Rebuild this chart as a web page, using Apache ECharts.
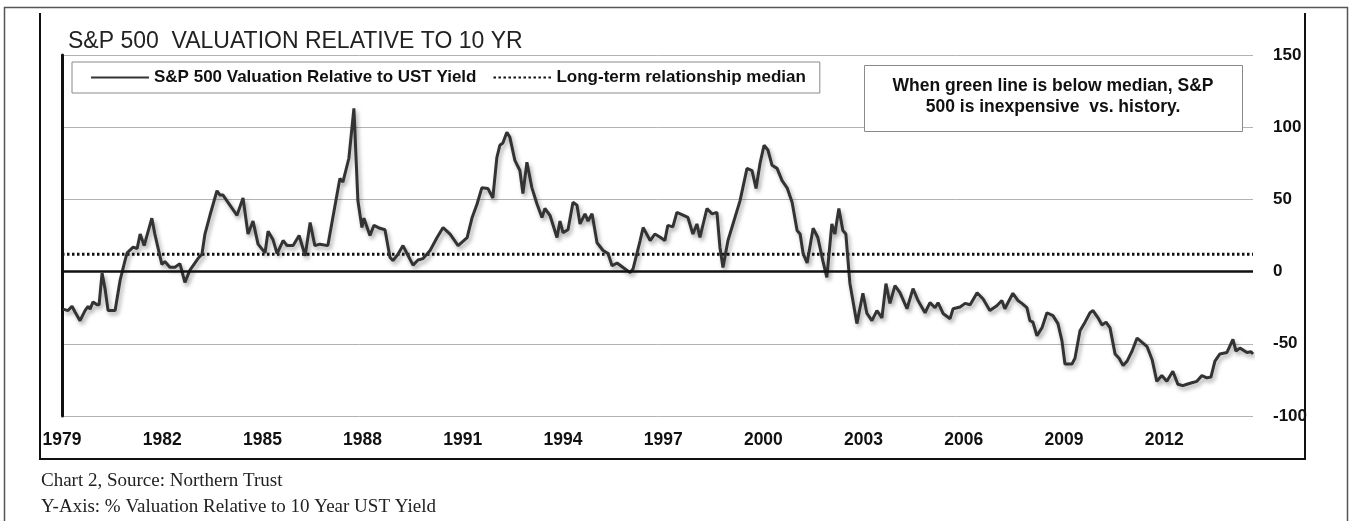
<!DOCTYPE html>
<html>
<head>
<meta charset="utf-8">
<script src="https://cdn.jsdelivr.net/npm/echarts@6/dist/echarts.min.js"></script>
<style>
  html, body { margin: 0; padding: 0; background: #fff; }
  #chart { width: 1351px; height: 521px; }
</style>
</head>
<body>
<div id="chart"></div>
<script>
// ---- Data ----
const titleText = 'S&P 500  VALUATION RELATIVE TO 10 YR';
const seriesName = 'S&P 500 Valuation Relative to UST Yield';
const medianName = 'Long-term relationship median';
const noteLines = ['When green line is below median, S&P', '500 is inexpensive  vs. history.'];
const captionLines = ['Chart 2, Source: Northern Trust', 'Y-Axis: % Valuation Relative to 10 Year UST Yield'];

const xTickYears = [1979, 1982, 1985, 1988, 1991, 1994, 1997, 2000, 2003, 2006, 2009, 2012];
const xRange = [1979, 2014.66];
const yRange = [-100, 150];
const yStep = 50;

const years = [
  1979.03,1979.18,1979.30,1979.39,1979.54,1979.69,1979.78,1979.84,1979.93,1980.05,
  1980.11,1980.20,1980.29,1980.38,1980.59,1980.74,1980.89,1980.95,1981.13,1981.25,
  1981.34,1981.46,1981.69,1981.78,1981.93,1981.99,1982.08,1982.23,1982.38,1982.53,
  1982.68,1982.83,1982.92,1983.07,1983.19,1983.28,1983.43,1983.64,1983.73,1983.82,
  1983.97,1984.24,1984.42,1984.57,1984.72,1984.87,1985.08,1985.17,1985.32,1985.44,
  1985.62,1985.74,1985.92,1986.10,1986.28,1986.43,1986.57,1986.72,1986.96,1987.11,
  1987.32,1987.41,1987.59,1987.74,1987.86,1987.98,1988.04,1988.22,1988.34,1988.52,
  1988.67,1988.82,1988.91,1989.06,1989.21,1989.33,1989.51,1989.66,1989.81,1990.02,
  1990.23,1990.41,1990.62,1990.86,1991.13,1991.28,1991.43,1991.57,1991.75,1991.90,
  1992.02,1992.11,1992.20,1992.32,1992.41,1992.56,1992.71,1992.80,1992.92,1993.07,
  1993.22,1993.37,1993.46,1993.61,1993.82,1993.91,1994.00,1994.15,1994.30,1994.42,
  1994.51,1994.66,1994.75,1994.87,1995.02,1995.20,1995.35,1995.47,1995.62,1995.80,
  1996.01,1996.10,1996.31,1996.40,1996.61,1996.75,1996.90,1997.05,1997.14,1997.29,
  1997.41,1997.56,1997.74,1997.89,1998.01,1998.10,1998.31,1998.46,1998.61,1998.70,
  1998.79,1998.94,1999.09,1999.30,1999.51,1999.66,1999.78,1999.90,2000.02,2000.14,
  2000.26,2000.41,2000.56,2000.71,2000.86,2001.01,2001.10,2001.19,2001.31,2001.49,
  2001.63,2001.78,2001.90,2002.05,2002.14,2002.26,2002.38,2002.47,2002.59,2002.80,
  2002.98,2003.10,2003.25,2003.40,2003.55,2003.67,2003.79,2003.94,2004.09,2004.30,
  2004.48,2004.63,2004.84,2004.99,2005.14,2005.23,2005.38,2005.59,2005.68,2005.89,
  2006.04,2006.19,2006.40,2006.58,2006.78,2006.99,2007.14,2007.23,2007.47,2007.62,
  2007.74,2007.89,2007.98,2008.07,2008.19,2008.34,2008.49,2008.67,2008.82,2008.94,
  2009.03,2009.24,2009.33,2009.48,2009.63,2009.78,2009.87,2010.02,2010.14,2010.26,
  2010.38,2010.53,2010.65,2010.77,2010.89,2011.04,2011.19,2011.34,2011.49,2011.64,
  2011.78,2011.93,2012.08,2012.26,2012.41,2012.56,2012.68,2012.83,2012.98,2013.13,
  2013.28,2013.40,2013.52,2013.67,2013.88,2014.06,2014.15,2014.27,2014.48,2014.60,
  2014.66
];
const values = [
  -26,-27,-24,-28,-34,-27,-24,-26,-21,-23,
  -23,-1,-12,-27,-27,-6,8,13,17,16,
  26,18,37,26,11,5,7,3,3,5.5,
  -7.5,1,4,9,12,26,39,56,53,53,
  48,39,51,26,35,19,13,28,22,12.5,
  21.5,18,18,25,11,34,18,19,18,37.5,
  64.5,62,78.5,113,49,30.5,37,25,32,30,
  29,10,7.6,12,18,12.5,4.5,8,9,14.6,
  23.6,30.5,26,18,23.6,37.5,47,58,57.6,51,
  79,87.5,89,96.5,93,77,70,54,75.7,58,
  47,37.5,43.7,39,23.6,35,27,29,48,46,
  33,40,35,40,20,14.6,12.5,4,6,2.8,
  -0.7,2,21.5,30.5,21.5,26,24,21.5,32,31,
  41,39.5,37.5,26,33,23.6,43.7,40,41,16.7,
  2.8,21.5,33,49,71.5,70,57.6,75,87.5,84,
  73.6,71.5,63,58,48,28.5,26,12.5,6,30,
  23.6,7.6,-4,33,26,43.7,28.5,26,-8,-36,
  -15,-29,-34,-27,-32,-8.3,-22,-9.7,-14.6,-25.7,
  -11.8,-20,-28.5,-21.5,-25,-21.5,-29,-32.6,-25.7,-24.5,
  -22,-23,-14.6,-19,-27,-23.6,-20,-25.7,-15,-20,
  -22,-25,-34,-35,-44.4,-39,-28.5,-30.5,-36,-48,
  -64,-64,-60,-41,-35,-28.5,-27,-32,-37,-35,
  -39,-57,-60,-65,-62,-55,-46,-49,-52,-61,
  -76,-72,-76,-69,-78,-79,-78,-77,-76,-72,
  -73.6,-73,-62,-57,-56,-47,-55,-53,-56,-55.5,
  -57
];
const medianYears = [1979, 2014.66];
const medianValues = [12, 12];

// ---- Chart ----
const chart = echarts.init(document.getElementById('chart'), null, { renderer: 'canvas' });

const lineData = years.map((y, i) => [y, values[i]]);
const medianData = medianYears.map((y, i) => [y, medianValues[i]]);

const boldFont = '"Liberation Sans", Arial, sans-serif';

chart.setOption({
  backgroundColor: '#ffffff',
  animation: false,
  title: {
    text: titleText,
    left: 63,
    top: 25,
    textStyle: {
      fontFamily: boldFont,
      fontSize: 23,
      fontWeight: 'normal',
      color: '#222'
    }
  },
  legend: {
    orient: 'horizontal',
    left: 72,
    top: 62,
    padding: [7, 14, 7, 18],
    itemGap: 16,
    itemWidth: 58,
    itemHeight: 14,
    backgroundColor: '#ffffff',
    borderColor: '#8a8a8a',
    borderWidth: 1,
    itemStyle: { opacity: 0 },
    textStyle: {
      fontFamily: boldFont,
      fontSize: 17,
      fontWeight: 'bold',
      color: '#111'
    },
    data: [seriesName, medianName]
  },
  grid: {
    left: 62,
    right: 98,
    top: 55,
    bottom: 105
  },
  xAxis: {
    type: 'value',
    min: xRange[0],
    max: xRange[1],
    axisLine: { show: false },
    axisTick: { show: false },
    splitLine: { show: false },
    axisLabel: {
      customValues: xTickYears,
      margin: 15,
      fontFamily: boldFont,
      fontSize: 17.5,
      fontWeight: 'bold',
      color: '#111',
      formatter: v => String(Math.round(v))
    }
  },
  yAxis: [
    {
      type: 'value',
      position: 'left',
      min: yRange[0],
      max: yRange[1],
      interval: yStep,
      axisLine: { show: true, onZero: false, lineStyle: { color: '#111', width: 3 } },
      axisTick: { show: false },
      axisLabel: { show: false },
      splitLine: { show: false }
    },
    {
      type: 'value',
      position: 'right',
      min: yRange[0],
      max: yRange[1],
      interval: yStep,
      axisLine: { show: false },
      axisTick: { show: false },
      axisLabel: {
        margin: 20,
        fontFamily: boldFont,
        fontSize: 17,
        fontWeight: 'bold',
        color: '#111'
      },
      splitLine: { show: true, lineStyle: { color: '#b3b3b3', width: 1 } }
    }
  ],
  series: [
    {
      name: seriesName,
      type: 'line',
      yAxisIndex: 1,
      data: lineData,
      symbol: 'none',
      color: '#333',
      lineStyle: {
        color: '#333',
        width: 3,
        shadowColor: 'rgba(0,0,0,0.35)',
        shadowBlur: 4,
        shadowOffsetX: 2,
        shadowOffsetY: 3
      },
      markLine: {
        silent: true,
        symbol: ['none', 'none'],
        label: { show: false },
        lineStyle: { color: '#111', width: 2.5, type: 'solid', shadowBlur: 0, shadowColor: 'rgba(0,0,0,0)' },
        data: [{ yAxis: 0 }]
      },
      z: 3
    },
    {
      name: medianName,
      type: 'line',
      yAxisIndex: 1,
      data: medianData,
      symbol: 'none',
      silent: true,
      color: '#111',
      lineStyle: { color: '#111', width: 3, type: [2.5, 2.5] },
      z: 2
    }
  ],
  graphic: [
    // outer page border
    {
      type: 'polyline',
      shape: { points: [[4.5, 530], [4.5, 7.5], [1347.5, 7.5], [1347.5, 530]] },
      style: { stroke: '#555', lineWidth: 1.5, fill: null },
      silent: true
    },
    // chart frame
    {
      type: 'polyline',
      shape: { points: [[40, 13], [40, 459], [1305, 459], [1305, 13]] },
      style: { stroke: '#111', lineWidth: 2, fill: null },
      silent: true
    },
    // annotation box
    {
      type: 'rect',
      shape: { x: 864.5, y: 65.5, width: 378, height: 66 },
      style: { fill: '#fff', stroke: '#8a8a8a', lineWidth: 1 },
      z: 10,
      silent: true
    },
    {
      type: 'text',
      x: 1053,
      y: 97,
      z: 11,
      silent: true,
      style: {
        text: noteLines.join('\n'),
        fill: '#111',
        font: 'bold 17.5px "Liberation Sans", Arial, sans-serif',
        align: 'center',
        verticalAlign: 'middle',
        lineHeight: 21
      }
    },
    // captions
    {
      type: 'text',
      x: 41,
      y: 481,
      silent: true,
      style: {
        text: captionLines[0],
        fill: '#222',
        font: '19px "Liberation Serif", "Times New Roman", serif',
        verticalAlign: 'middle'
      }
    },
    {
      type: 'text',
      x: 41,
      y: 507,
      silent: true,
      style: {
        text: captionLines[1],
        fill: '#222',
        font: '19px "Liberation Serif", "Times New Roman", serif',
        verticalAlign: 'middle'
      }
    }
  ]
});
</script>
</body>
</html>
